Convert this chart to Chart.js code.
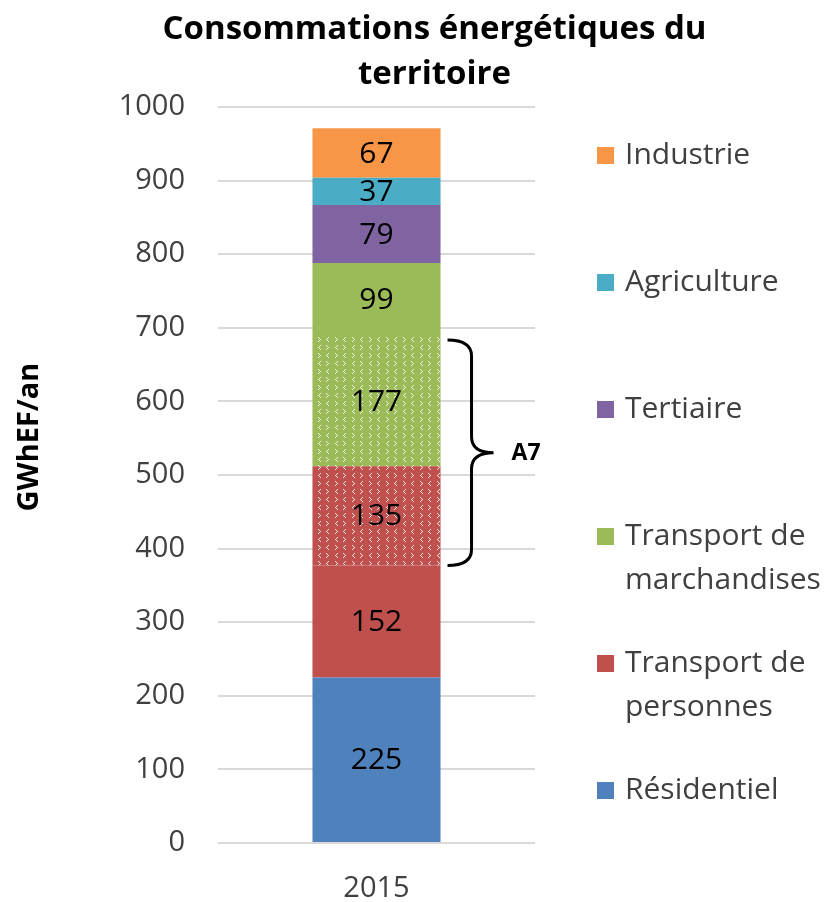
<!DOCTYPE html>
<html>
<head>
<meta charset="utf-8">
<script src="https://cdn.jsdelivr.net/npm/chart.js@4/dist/chart.umd.min.js"></script>
<style>
  html, body { margin: 0; padding: 0; background: #fff; }
  #wrap { width: 824px; height: 902px; }
</style>
</head>
<body>
<div id="wrap"><canvas id="chart" width="824" height="902"></canvas></div>
<script>
// chart data
const categories = ["2015"]
const residentiel = [225]
const transportPersonnes = [152]
const transportPersonnesA7 = [135]
const transportMarchandisesA7 = [177]
const transportMarchandises = [99]
const tertiaire = [79]
const agriculture = [37]
const industrie = [67]
const yTicks = [0, 100, 200, 300, 400, 500, 600, 700, 800, 900, 1000]
const titleLines = ["Consommations énergétiques du", "territoire"]
const yTitle = "GWhEF/an"
const legendLabels = [
  ["Industrie"],
  ["Agriculture"],
  ["Tertiaire"],
  ["Transport de", "marchandises"],
  ["Transport de", "personnes"],
  ["Résidentiel"],
]

const FONT = "'Open Sans', sans-serif"
const colors = {
  blue: "#4f81bd",
  red: "#c0504d",
  green: "#9bbb59",
  purple: "#8064a2",
  cyan: "#4bacc6",
  orange: "#f79646",
}

// dotted chevron pattern used for the A7 segments
function makePattern(base) {
  const c = document.createElement("canvas")
  c.width = 17
  c.height = 16
  const g = c.getContext("2d")
  g.fillStyle = base
  g.fillRect(0, 0, 17, 16)
  g.fillStyle = "rgba(255,255,255,0.85)"
  const lt = (x, y) => { g.fillRect(x + 2, y, 1, 1); g.fillRect(x + 1, y + 1, 1, 1); g.fillRect(x, y + 2, 1, 1); g.fillRect(x + 1, y + 3, 1, 1); g.fillRect(x + 2, y + 4, 1, 1) }
  const gt = (x, y) => { g.fillRect(x, y, 1, 1); g.fillRect(x + 1, y + 1, 1, 1); g.fillRect(x + 2, y + 2, 1, 1); g.fillRect(x + 1, y + 3, 1, 1); g.fillRect(x, y + 4, 1, 1) }
  lt(3, 1); gt(12, 1)
  gt(3, 9); lt(12, 9)
  return document.getElementById("chart").getContext("2d").createPattern(c, "repeat")
}

const datasets = [
  { label: "Résidentiel", data: residentiel, backgroundColor: colors.blue },
  { label: "Transport de personnes", data: transportPersonnes, backgroundColor: colors.red },
  { label: "Transport de personnes A7", data: transportPersonnesA7, backgroundColor: makePattern(colors.red) },
  { label: "Transport de marchandises A7", data: transportMarchandisesA7, backgroundColor: makePattern(colors.green) },
  { label: "Transport de marchandises", data: transportMarchandises, backgroundColor: colors.green },
  { label: "Tertiaire", data: tertiaire, backgroundColor: colors.purple },
  { label: "Agriculture", data: agriculture, backgroundColor: colors.cyan },
  { label: "Industrie", data: industrie, backgroundColor: colors.orange },
]
const legendColors = [colors.orange, colors.cyan, colors.purple, colors.green, colors.red, colors.blue]

// two-line title and rotated y axis title
const chartTitles = {
  id: "chartTitles",
  afterDraw(chart) {
    const ctx = chart.ctx
    const cx = (chart.chartArea.left + chart.chartArea.right) / 2 + 58
    ctx.save()
    ctx.font = "bold 33px " + FONT
    ctx.fillStyle = "#000"
    ctx.textAlign = "center"
    ctx.textBaseline = "middle"
    titleLines.forEach((t, i) => ctx.fillText(t, cx, 30 + i * 45))
    ctx.translate(30, 437)
    ctx.rotate(-Math.PI / 2)
    ctx.font = "bold 29px " + FONT
    ctx.fillText(yTitle, 0, 0)
    ctx.restore()
  },
}

// values written inside each segment
const segmentLabels = {
  id: "segmentLabels",
  afterDatasetsDraw(chart) {
    const ctx = chart.ctx
    ctx.save()
    ctx.font = "30px " + FONT
    ctx.fillStyle = "#000"
    ctx.textAlign = "center"
    ctx.textBaseline = "middle"
    chart.data.datasets.forEach((ds, i) => {
      chart.getDatasetMeta(i).data.forEach((bar, j) => {
        const mid = (bar.y + bar.base) / 2
        ctx.fillText(String(ds.data[j]), bar.x, mid + 1)
      })
    })
    ctx.restore()
  },
}

// curly brace grouping the two A7 segments
const braceA7 = {
  id: "braceA7",
  afterDatasetsDraw(chart) {
    const y = chart.scales.y
    const bar = chart.getDatasetMeta(2).data[0]
    const lo = residentiel[0] + transportPersonnes[0]
    const hi = lo + transportPersonnesA7[0] + transportMarchandisesA7[0]
    const top = y.getPixelForValue(hi) + 4
    const bot = y.getPixelForValue(lo)
    const mid = (top + bot) / 2
    const x0 = bar.x + bar.width / 2 + 7
    const x1 = x0 + 24
    const x2 = x1 + 22
    const r = 16
    const ctx = chart.ctx
    ctx.save()
    ctx.strokeStyle = "#000"
    ctx.lineWidth = 3
    ctx.beginPath()
    ctx.moveTo(x0, top)
    ctx.quadraticCurveTo(x1, top, x1, top + r)
    ctx.lineTo(x1, mid - r)
    ctx.quadraticCurveTo(x1, mid, x2, mid)
    ctx.quadraticCurveTo(x1, mid, x1, mid + r)
    ctx.lineTo(x1, bot - r)
    ctx.quadraticCurveTo(x1, bot, x0, bot)
    ctx.stroke()
    ctx.font = "bold 23px " + FONT
    ctx.fillStyle = "#000"
    ctx.textBaseline = "middle"
    ctx.fillText("A7", x2 + 18, mid + 1)
    ctx.restore()
  },
}

// legend on the right, one entry per sector
const sideLegend = {
  id: "sideLegend",
  afterDraw(chart) {
    const ctx = chart.ctx
    const x = chart.chartArea.right + 62
    const startY = 155
    const step = 127
    ctx.save()
    ctx.font = "30px " + FONT
    ctx.textBaseline = "middle"
    legendLabels.forEach((lines, i) => {
      const y = startY + i * step
      ctx.fillStyle = legendColors[i]
      ctx.fillRect(x, y - 8, 17, 17)
      ctx.fillStyle = "#404040"
      lines.forEach((t, k) => ctx.fillText(t, x + 28, y + k * 44))
    })
    ctx.restore()
  },
}

new Chart(document.getElementById("chart"), {
  type: "bar",
  data: { labels: categories, datasets },
  plugins: [segmentLabels, braceA7, sideLegend, chartTitles],
  options: {
    responsive: false,
    animation: false,
    layout: { padding: { left: 0, right: 289, top: 107, bottom: 0 } },
    datasets: { bar: { categoryPercentage: 1, barPercentage: 0.404 } },
    plugins: {
      legend: { display: false },
      tooltip: { enabled: false },
      title: { display: false },
    },
    scales: {
      x: {
        stacked: true,
        grid: { display: false },
        border: { display: false },
        ticks: { color: "#404040", font: { family: FONT, size: 29 }, padding: 20 },
        afterFit: (s) => { s.height = 59 },
      },
      y: {
        stacked: true,
        min: 0,
        max: 1000,
        afterBuildTicks: (s) => { s.ticks = yTicks.map((v) => ({ value: v })) },
        grid: { color: "#d9d9d9", lineWidth: 2, drawTicks: false },
        border: { display: false },
        ticks: {
          color: "#404040",
          font: { family: FONT, size: 29 },
          padding: 33,
          callback: (v) => String(v),
        },
        afterFit: (s) => { s.width = 218 },
      },
    },
  },
})
</script>
</body>
</html>
